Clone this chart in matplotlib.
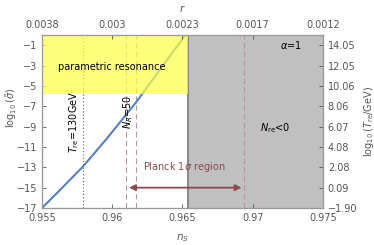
import numpy as np
import matplotlib.pyplot as plt

# curve: n_s vs log10(sigma)
ns = [0.955, 0.9563, 0.9579, 0.9596, 0.9617, 0.9634, 0.9652]
log_sigma = [-17, -15.2, -12.95, -10.2, -6.6, -3.4, 0]

yticks = [-1, -3, -5, -7, -9, -11, -13, -15, -17]
right_labels = ["14.05", "12.05", "10.06", "8.06", "6.07", "4.08", "2.08", "0.09", "\u22121.90"]
xticks = [0.955, 0.96, 0.965, 0.97, 0.975]
xlabels = ["0.955", "0.96", "0.965", "0.97", "0.975"]
r_labels = ["0.0038", "0.003", "0.0023", "0.0017", "0.0012"]

ns_trh = 0.9579      # T_re = 130 GeV
ns_nr50 = 0.9617     # N_R = 50
planck_lo, planck_hi = 0.9610, 0.9694
ns_nre0 = 0.9654     # N_re < 0 boundary
param_res = -5.8

plt.rcParams['font.family'] = 'DejaVu Sans'
fig = plt.figure(figsize=(3.74, 2.45), dpi=100)
ax = fig.add_axes([0.1123, 0.151, 0.7513, 0.706])

tc = '#555555'
fs = 7
ax.plot(ns, log_sigma, color='#5580c0', lw=1.5, zorder=2)
ax.axvspan(ns_nre0, 0.975, color='#c0c0c0', zorder=1, lw=0)
ax.axvline(ns_nre0, color='#8a8a8a', lw=1.5, zorder=1)
ax.fill_between([0.955, ns_nre0], param_res, 0, color='#ffff48', alpha=0.7, lw=0, zorder=3)

ax.axvline(ns_trh, color='#777777', ls=':', lw=0.9, zorder=1.5)
for v in (planck_lo, ns_nr50, planck_hi):
    ax.axvline(v, color='#c09595', ls=(0, (5, 3)), lw=0.8, zorder=1.5)

brown = '#8b4a4a'
ax.annotate('', xy=(planck_lo, -15), xytext=(planck_hi, -15),
            arrowprops=dict(arrowstyle='<|-|>', color=brown, lw=1.3, mutation_scale=9))
ax.text(0.9622, -13, r'Planck 1$\sigma$ region', color=brown, fontsize=fs, va='center')

ax.text(0.960, -3.1, 'parametric resonance', fontsize=fs, ha='center', va='center', zorder=4)
ax.text(0.9735, -1, r'$\alpha$=1', fontsize=fs, ha='right', va='center')
ax.text(0.9727, -9.1, r'$N_{\rm re}$<0', fontsize=fs, ha='right', va='center')
ax.text(ns_trh - 0.0001, -8.5, r'$T_{\rm re}$=130GeV', rotation=90, fontsize=fs,
        ha='right', va='center')
ax.text(ns_nr50 - 0.0001, -7.6, r'$N_R$=50', rotation=90, fontsize=fs,
        ha='right', va='center')

ax.set_xlim(0.955, 0.975)
ax.set_ylim(-17, 0)
ax.set_xticks(xticks)
ax.set_xticklabels(xlabels)
ax.set_yticks(yticks)
ax.set_yticklabels([str(t).replace('-', '\u2212') for t in yticks])
ax.set_xlabel(r'$n_S$', color=tc, fontsize=7.5, labelpad=7)
ax.set_ylabel(r'$\log_{10}(\tilde{\sigma})$', color=tc, fontsize=7)
ax.yaxis.set_label_coords(-0.082, 0.58)
ax.tick_params(labelsize=fs, colors=tc, length=3, width=0.6, direction='in')

top = ax.twiny()
top.set_xlim(ax.get_xlim())
top.set_xticks(xticks)
top.set_xticklabels(r_labels)
top.tick_params(labelsize=fs, colors=tc, direction='in', length=3, width=0.6)
top.set_xlabel(r'$r$', color=tc, fontsize=7.5, labelpad=6)

right = ax.twinx()
right.set_ylim(ax.get_ylim())
right.set_yticks(yticks)
right.set_yticklabels(right_labels)
right.tick_params(labelsize=fs, colors=tc, length=3, width=0.6, direction='in')
right.set_ylabel(r'$\log_{10}(T_{\rm re}/{\rm GeV})$', color=tc, fontsize=7, labelpad=3)

for a in (ax, top, right):
    for s in a.spines.values():
        s.set_color('#999999')
        s.set_linewidth(0.8)

fig.savefig('out.png', dpi=100)
